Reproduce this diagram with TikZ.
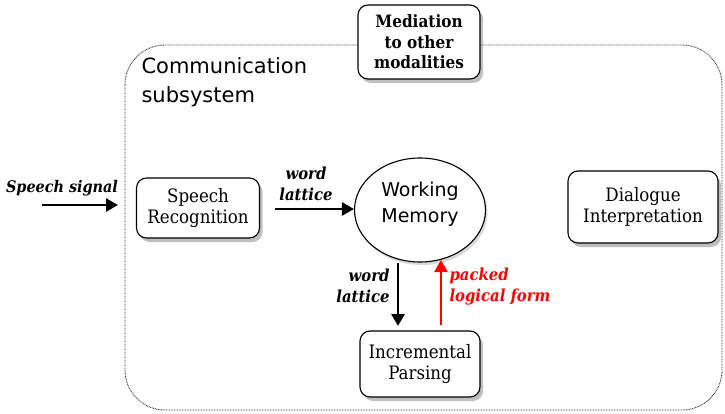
\documentclass[tikz,border=0pt]{standalone}
\usepackage{fontspec}
\setmainfont{DejaVu Serif Condensed}
\setsansfont{DejaVu Sans}
\usetikzlibrary{shapes.geometric,shadows,arrows.meta}
\begin{document}
\begin{tikzpicture}[x=1pt,y=-1pt,
  module/.style={draw,line width=1.1pt,rounded corners=10pt,fill=white,align=center,
    font=\fontsize{18.5}{21.5}\selectfont,
    drop shadow={shadow xshift=3pt,shadow yshift=-4pt,fill=black!50}},
  flow/.style={line width=2.6pt,-{Triangle[length=12pt,width=13pt]}},
  lbl/.style={font=\bfseries\itshape\fontsize{16.5}{21}\selectfont,align=center}]
\useasboundingbox (0,0) rectangle (725,414);
% communication subsystem boundary
\draw[line width=0.9pt,dash pattern=on 0.8pt off 0.8pt,black!80,rounded corners=40pt] (125,45) rectangle (722,410);
\node[anchor=north west,align=left,font=\sffamily\fontsize{21}{29}\selectfont] (title) at (138,54) {Communication\\subsystem};
% modules
\node[module,minimum width=122pt,minimum height=74pt,font=\bfseries\fontsize{17}{20.5}\selectfont] (med) at (419,42) {Mediation\\to other\\modalities};
\node[module,minimum width=123pt,minimum height=60pt] (sr) at (198,208) {Speech\\Recognition};
\node[draw,line width=1.1pt,ellipse,fill=white,minimum width=131pt,minimum height=104pt,
  drop shadow={shadow xshift=2pt,shadow yshift=-3pt,fill=black!30}] (wm) at (420,210) {};
\node[align=center,font=\sffamily\fontsize{19}{26}\selectfont] (wmtext) at (420,204) {Working\\Memory};
\node[module,minimum width=150pt,minimum height=72pt] (di) at (643,207) {Dialogue\\Interpretation};
\node[module,minimum width=120pt,minimum height=66pt] (ip) at (420,364) {Incremental\\Parsing};
% input signal
\coordinate (in) at (42,205);
\coordinate (inend) at (118,205);
\draw[flow] (in) -- (inend);
\node[lbl,font=\bfseries\itshape\fontsize{16}{19}\selectfont] (sig) at (62,188) {Speech signal};
% recognition to working memory
\coordinate (a1) at (275,209);
\draw[flow] (a1) -- (wm.west|-a1);
\node[lbl] (wl1) at (306,184) {word\\lattice};
% working memory to parsing
\coordinate (d1) at (398,263);
\coordinate (d2) at (398,326);
\draw[flow] (d1) -- (d2);
\node[lbl,align=right,anchor=east] (wl2) at (393,286) {word\\lattice};
% parsing back to working memory
\coordinate (u1) at (441,325);
\coordinate (u2) at (441,260);
\draw[flow,red] (u1) -- (u2);
\node[lbl,red,align=left,anchor=west] (plf) at (446,287) {packed\\logical form};
\end{tikzpicture}
\end{document}
